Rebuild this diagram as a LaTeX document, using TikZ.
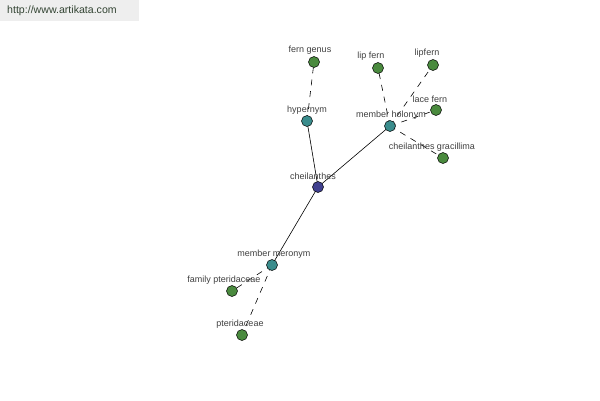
\documentclass[tikz,border=0pt]{standalone}
\usepackage{fontspec}
\setmainfont{Liberation Sans}
\definecolor{leafgreen}{HTML}{4A8A3E}
\definecolor{midteal}{HTML}{3A8C8C}
\definecolor{rootblue}{HTML}{40408F}
\definecolor{labelgray}{HTML}{404040}
\definecolor{bannerbg}{HTML}{EEEEEE}
\definecolor{bannertext}{HTML}{334433}
\tikzset{
  dot/.style={circle,draw=black,line width=0.5pt,minimum size=11pt,inner sep=0pt},
  leaf/.style={dot,fill=leafgreen},
  mid/.style={dot,fill=midteal},
  root/.style={dot,fill=rootblue},
  lbl/.style={font=\fontsize{9}{10}\selectfont,text=labelgray,inner sep=0pt},
  solidedge/.style={draw=black,line width=0.6pt},
  dashedge/.style={draw=black,line width=0.6pt,dash pattern=on 6pt off 6pt}
}
\begin{document}
\begin{tikzpicture}[x=1pt,y=-1pt]
\useasboundingbox (0,0) rectangle (600,400);
\fill[white] (0,0) rectangle (600,400);
\fill[bannerbg] (0,0) rectangle (139,21);
\node[font=\fontsize{10.6}{12}\selectfont,text=bannertext,anchor=west,inner sep=0pt] (banner) at (7,11) {http://www.artikata.com};
% node positions
\coordinate (pCh) at (318,187);
\coordinate (pHy) at (307,121);
\coordinate (pFg) at (314,62);
\coordinate (pMh) at (390,126);
\coordinate (pLf) at (378,68);
\coordinate (pLp) at (433,65);
\coordinate (pLa) at (436,110);
\coordinate (pCg) at (443,158);
\coordinate (pMm) at (272,265);
\coordinate (pFp) at (232,291);
\coordinate (pPt) at (242,335);
% edges
\draw[solidedge] (pCh) -- (pHy);
\draw[solidedge] (pCh) -- (pMh);
\draw[solidedge] (pCh) -- (pMm);
\draw[dashedge] (pHy) -- (pFg);
\draw[dashedge] (pMh) -- (pLf);
\draw[dashedge] (pMh) -- (pLp);
\draw[dashedge] (pMh) -- (pLa);
\draw[dashedge] (pMh) -- (pCg);
\draw[dashedge] (pMm) -- (pFp);
\draw[dashedge] (pMm) -- (pPt);
% circles
\node[root] (ch) at (pCh) {};
\node[mid] (hy) at (pHy) {};
\node[leaf] (fg) at (pFg) {};
\node[mid] (mh) at (pMh) {};
\node[leaf] (lf) at (pLf) {};
\node[leaf] (lp) at (pLp) {};
\node[leaf] (la) at (pLa) {};
\node[leaf] (cg) at (pCg) {};
\node[mid] (mm) at (pMm) {};
\node[leaf] (fp) at (pFp) {};
\node[leaf] (pt) at (pPt) {};
% labels
\node[lbl] (lch) at (313,176) {cheilanthes};
\node[lbl] (lhy) at (307,110) {hypernym};
\node[lbl] (lfg) at (310,50) {fern genus};
\node[lbl] (lmh) at (391,115) {member holonym};
\node[lbl] (llf) at (371,56) {lip fern};
\node[lbl] (llp) at (427,53) {lipfern};
\node[lbl] (lla) at (430,99) {lace fern};
\node[lbl] (lcg) at (432,147) {cheilanthes gracillima};
\node[lbl] (lmm) at (274,254) {member meronym};
\node[lbl] (lfp) at (224,280) {family pteridaceae};
\node[lbl] (lpt) at (240,324) {pteridaceae};
\end{tikzpicture}
\end{document}
